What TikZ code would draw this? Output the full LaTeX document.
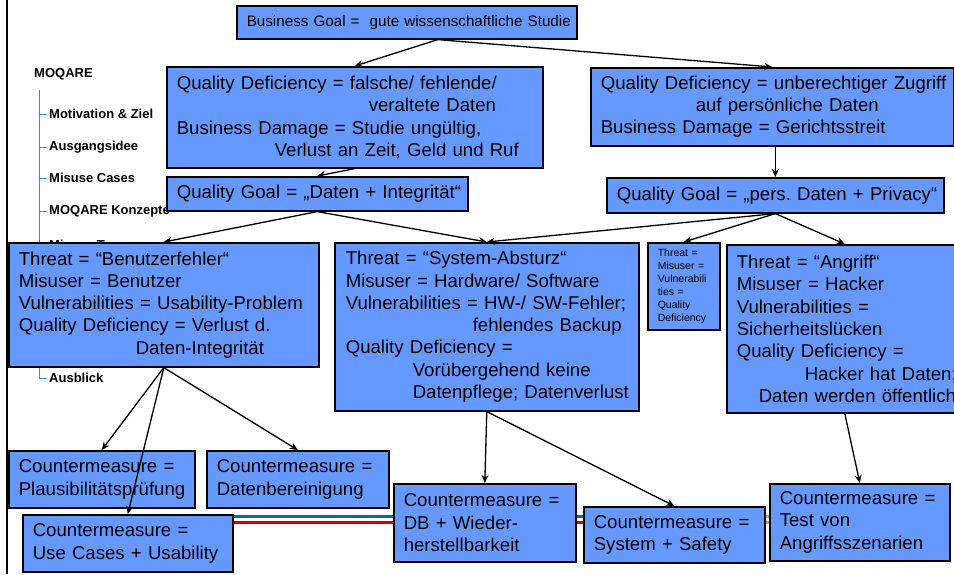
\documentclass[tikz,border=0pt]{standalone}
\usepackage{fontspec}
\setmainfont{Liberation Sans}
\usetikzlibrary{arrows.meta,backgrounds}
\definecolor{boxblue}{RGB}{102,153,255}
\definecolor{treeteal}{RGB}{40,150,190}
\definecolor{linteal}{RGB}{0,112,140}
\definecolor{linred}{RGB}{210,0,0}
\newcommand\mline[1]{\mbox{#1}}
\frenchspacing
\begin{document}
\begin{tikzpicture}[x=1pt,y=-1pt,
  box/.style={draw=black, line width=1.6pt, fill=boxblue, anchor=north west, align=left,
    inner xsep=10pt, inner ysep=0pt, font=\fontsize{18.6}{22.3}\selectfont},
  smallbox/.style={box, font=\fontsize{10.5}{13}\selectfont},
  side/.style={anchor=west, font=\bfseries\fontsize{13}{15}\selectfont, inner sep=0pt},
  conn/.style={-{Stealth[length=8pt,width=7pt]}, line width=1.3pt},
  tree/.style={treeteal, line width=1pt}]
\useasboundingbox (0,0) rectangle (954,574);
\clip (0,0) rectangle (954,574);
% left border and sidebar
\draw[black, line width=2pt] (7,0) -- (7,574);
\draw[tree] (39,90) -- (39,378) -- (47,378);
\foreach \yy in {114,147,178,211,244} \draw[tree] (39,\yy) -- (47,\yy);
\node[side] (s0) at (34,74) {MOQARE};
\node[side] (s1) at (49,114) {Motivation \& Ziel};
\node[side] (s2) at (49,147) {Ausgangsidee};
\node[side] (s3) at (49,178) {Misuse Cases};
\node[side] (s4) at (49,211) {MOQARE Konzepte};
\node[side] (s5) at (49,245) {Misuse Tree};
\node[side] (s6) at (49,378) {Ausblick};
% boxes
\node[box, minimum width=340pt, minimum height=33pt, text width=320pt, font=\fontsize{15.2}{18}\selectfont] (bg) at (236,5)
  {\mline{Business Goal =\ \ gute wissenschaftliche Studie}};
\node[box, minimum width=376pt, minimum height=101pt, text width=356pt] (qd1) at (166,66)
  {\mline{Quality Deficiency = falsche/ fehlende/}\\
   \mline{\hspace*{192pt}veraltete Daten}\\
   \mline{Business Damage = Studie ungültig,}\\
   \mline{\hspace*{98pt}Verlust an Zeit, Geld und Ruf}};
\node[box, minimum width=363pt, minimum height=78pt, text width=343pt] (qd2) at (590,67)
  {\mline{Quality Deficiency = unberechtiger Zugriff}\\
   \mline{\hspace*{95pt}auf persönliche Daten}\\
   \mline{Business Damage = Gerichtsstreit}};
\node[box, minimum width=301pt, minimum height=34pt, text width=281pt] (qg1) at (166,176)
  {\mline{Quality Goal = „Daten + Integrität“}};
\node[box, minimum width=337pt, minimum height=35pt, text width=317pt] (qg2) at (606,177)
  {\mline{Quality Goal = „pers. Daten + Privacy“}};
\node[box, minimum width=310pt, minimum height=124pt, text width=290pt] (t1) at (8,242)
  {\mline{Threat = “Benutzerfehler“}\\
   \mline{Misuser = Benutzer}\\
   \mline{Vulnerabilities = Usability-Problem}\\
   \mline{Quality Deficiency = Verlust d.}\\
   \mline{\hspace*{117pt}Daten-Integrität}};
\node[box, minimum width=304pt, minimum height=168pt, text width=282pt, inner xsep=11pt] (t2) at (334,242)
  {\mline{Threat = “System-Absturz“}\\
   \mline{Misuser = Hardware/ Software}\\
   \mline{Vulnerabilities = HW-/ SW-Fehler;}\\
   \mline{\hspace*{127pt}fehlendes Backup}\\
   \mline{Quality Deficiency =}\\
   \mline{\hspace*{67pt}Vorübergehend keine}\\
   \mline{\hspace*{67pt}Datenpflege; Datenverlust}};
\node[smallbox, minimum width=72pt, minimum height=87pt, text width=52pt] (t0) at (647,242)
  {\mline{Threat =}\\ \mline{Misuser =}\\ \mline{Vulnerabili}\\ \mline{ties =}\\ \mline{Quality}\\ \mline{Deficiency}};
\node[box, minimum width=236pt, minimum height=168pt, text width=216pt, inner xsep=10pt] (t3) at (726,244)
  {\mline{Threat = “Angriff“}\\
   \mline{Misuser = Hacker}\\
   \mline{Vulnerabilities =}\\
   \mline{Sicherheitslücken}\\
   \mline{Quality Deficiency =}\\
   \mline{\hspace*{68pt}Hacker hat Daten;}\\
   \mline{\hspace*{22pt}Daten werden öffentlich}};
\node[box, minimum width=186pt, minimum height=57pt, text width=166pt] (cm1) at (8,450)
  {\mline{Countermeasure =}\\ \mline{Plausibilitätsprüfung}};
\node[box, minimum width=182pt, minimum height=57pt, text width=162pt] (cm2) at (206,450)
  {\mline{Countermeasure =}\\ \mline{Datenbereinigung}};
\node[box, minimum width=210pt, minimum height=57pt, text width=190pt] (cm3) at (22,514)
  {\mline{Countermeasure =}\\ \mline{Use Cases + Usability}};
\node[box, minimum width=182pt, minimum height=78pt, text width=162pt] (cm4) at (393,483)
  {\mline{Countermeasure =}\\ \mline{DB + Wieder-}\\ \mline{herstellbarkeit}};
\node[box, minimum width=181pt, minimum height=56pt, text width=161pt] (cm5) at (583,506)
  {\mline{Countermeasure =}\\ \mline{System + Safety}};
\node[box, minimum width=180pt, minimum height=77pt, text width=160pt] (cm6) at (769,483)
  {\mline{Countermeasure =}\\ \mline{Test von}\\ \mline{Angriffsszenarien}};
% colour bands behind the lower boxes
\begin{pgfonlayer}{background}
  \fill[white] (0,0) rectangle (954,574);
  \draw[linteal, line width=3.5pt] ([yshift=-2.5pt]cm3.north east) -- ([yshift=-10.5pt]cm5.north east);
  \draw[linred, line width=3.5pt] ([yshift=-8.5pt]cm3.north east) -- ([yshift=-16.5pt]cm5.north east);
  \draw[linteal!45, line width=3.5pt] ([yshift=-10.5pt]cm5.north east) -- ([yshift=-33.5pt]cm6.north west);
  \draw[linred!45, line width=3.5pt] ([yshift=-16.5pt]cm5.north east) -- ([yshift=-39.5pt]cm6.north west);
\end{pgfonlayer}
% connectors
\draw[conn] ([xshift=31pt]bg.south) -- (qd1.north);
\draw[conn] ([xshift=31pt]bg.south) -- (qd2.north);
\draw[conn] (qd1.south) -- (qg1.north);
\draw[conn] (qg2.north |- qd2.south) -- (qg2.north);
\draw[conn] (qg1.south) -- (t1.north);
\draw[conn] (qg1.south) -- (t2.north);
\draw[conn] (qg2.south) -- (t2.north);
\draw[conn] (qg2.south) -- (t0.north);
\draw[conn] (qg2.south) -- (t3.north);
\draw[conn] (t1.south) -- (cm1.north);
\draw[conn] (t1.south) -- (cm2.north);
\draw[conn] (t1.south) -- (cm3.north);
\draw[conn] (t2.south) -- (cm4.north);
\draw[conn] (t2.south) -- (cm5.north);
\draw[conn] (t3.south) -- (cm6.north);
\end{tikzpicture}
\end{document}
